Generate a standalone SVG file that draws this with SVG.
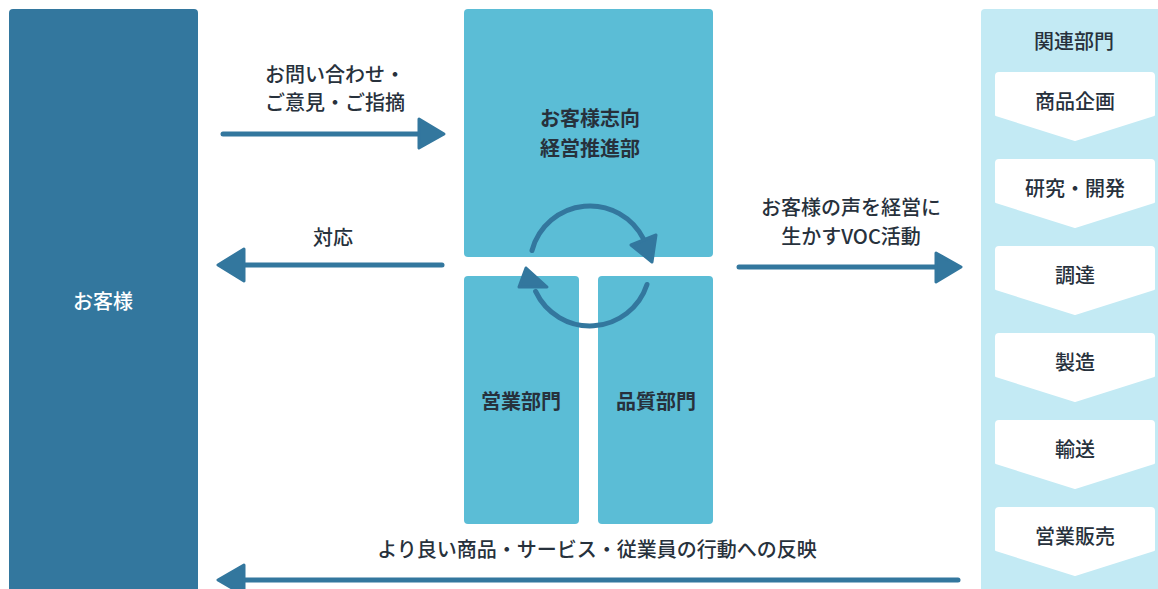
<svg xmlns="http://www.w3.org/2000/svg" width="1158" height="589" viewBox="0 0 1158 589">
<defs>
<style>
text{font-family:"Noto Sans CJK JP","Noto Sans",sans-serif;font-size:20px;fill:#27313c;text-anchor:middle}
.lbl{font-weight:500}
.bold{font-weight:700}
.white{fill:#ffffff;font-weight:500}
.dark{fill:#33779e}
.mid{fill:#5bbdd6}
.light{fill:#c3eaf4}
.line{stroke:#33779e;stroke-width:5;stroke-linecap:round;fill:none}
.head{fill:#33779e;stroke:#33779e;stroke-width:3;stroke-linejoin:round}
.chev{fill:#ffffff;stroke:#ffffff;stroke-width:2;stroke-linejoin:round}
</style>
</defs>
<rect width="1158" height="589" fill="#ffffff"/>

<g id="customer">
<path class="dark" d="M9 13 Q9 9 13 9 L194 9 Q198 9 198 13 L198 589 L9 589 Z"/>
<text class="white" x="103" y="309">お客様</text>
</g>

<g id="promotion">
<rect class="mid" x="464" y="9" width="249" height="248" rx="4"/>
<text class="bold" x="590" y="126">お客様志向</text>
<text class="bold" x="590" y="156">経営推進部</text>
</g>

<g id="sales">
<rect class="mid" x="464" y="276" width="115" height="248" rx="4"/>
<text class="bold" x="521" y="409">営業部門</text>
</g>

<g id="quality">
<rect class="mid" x="598" y="276" width="115" height="248" rx="4"/>
<text class="bold" x="656" y="409">品質部門</text>
</g>

<g id="related">
<path class="light" d="M981 13 Q981 9 985 9 L1158 9 L1158 589 L981 589 Z"/>
<text class="lbl" x="1074" y="49">関連部門</text>
<g id="step1"><path class="chev" d="M996 76 Q996 73 999 73 L1151 73 Q1154 73 1154 76 L1154 115 L1075 140 L996 115 Z"/><text class="lbl" x="1075" y="109">商品企画</text></g>
<g id="step2"><path class="chev" d="M996 163 Q996 160 999 160 L1151 160 Q1154 160 1154 163 L1154 202 L1075 227 L996 202 Z"/><text class="lbl" x="1075" y="196">研究・開発</text></g>
<g id="step3"><path class="chev" d="M996 250 Q996 247 999 247 L1151 247 Q1154 247 1154 250 L1154 289 L1075 314 L996 289 Z"/><text class="lbl" x="1075" y="283">調達</text></g>
<g id="step4"><path class="chev" d="M996 337 Q996 334 999 334 L1151 334 Q1154 334 1154 337 L1154 376 L1075 401 L996 376 Z"/><text class="lbl" x="1075" y="370">製造</text></g>
<g id="step5"><path class="chev" d="M996 424 Q996 421 999 421 L1151 421 Q1154 421 1154 424 L1154 463 L1075 488 L996 463 Z"/><text class="lbl" x="1075" y="457">輸送</text></g>
<g id="step6"><path class="chev" d="M996 511 Q996 508 999 508 L1151 508 Q1154 508 1154 511 L1154 550 L1075 575 L996 550 Z"/><text class="lbl" x="1075" y="544">営業販売</text></g>
</g>

<g id="connectors">
<line class="line" x1="223" y1="134" x2="422" y2="134"/>
<polygon class="head" points="419,119 444,134 419,148"/>
<text class="lbl" x="335" y="82">お問い合わせ・</text>
<text class="lbl" x="335" y="110">ご意見・ご指摘</text>

<line class="line" x1="442" y1="265" x2="240" y2="265"/>
<polygon class="head" points="244,249 218,265 244,281"/>
<text class="lbl" x="333" y="245">対応</text>

<line class="line" x1="739" y1="267" x2="940" y2="267"/>
<polygon class="head" points="936,253 961,267 936,282"/>
<text class="lbl" x="851" y="215">お客様の声を経営に</text>
<text class="lbl" x="851" y="244">生かすVOC活動</text>

<line class="line" x1="958" y1="580" x2="240" y2="580"/>
<polygon class="head" points="244,565 218,580 244,595"/>
<text class="lbl" x="597" y="557">より良い商品・サービス・従業員の行動への反映</text>

<path class="line" d="M532 250.5 A60 60 0 0 1 643.9 239.7"/>
<polygon class="head" points="631,245 656,235 652,262"/>
<path class="line" d="M647 284.5 A60 60 0 0 1 535.6 291.4"/>
<polygon class="head" points="519,287 526,268 547,287"/>
</g>
</svg>
